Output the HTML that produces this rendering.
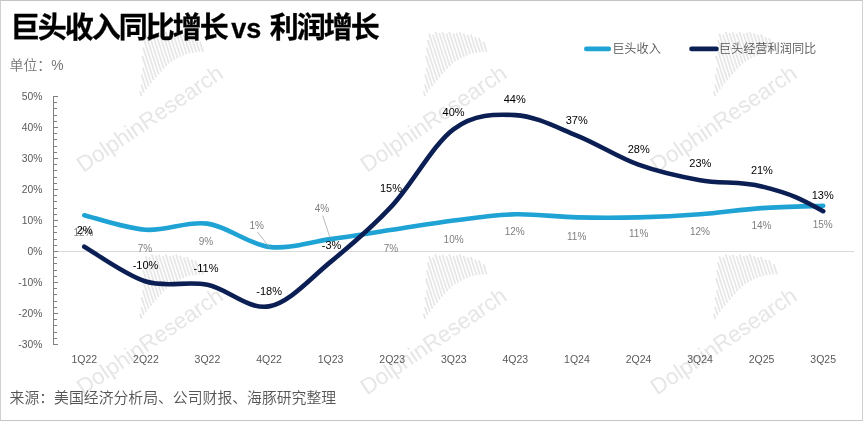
<!DOCTYPE html>
<html lang="zh-CN"><head><meta charset="utf-8"><title>巨头收入同比增长 vs 利润增长</title>
<style>
html,body{margin:0;padding:0;background:#fff;}
body{width:863px;height:421px;position:relative;overflow:hidden;font-family:"Liberation Sans","Noto Sans CJK SC",sans-serif;}
#frame{position:absolute;left:0;top:0;width:861px;height:419px;border:1px solid #d0d0d0;border-top-color:#c4c4c4;border-bottom-color:#c4c4c4;}
#title{position:absolute;left:10.8px;top:7.6px;-webkit-text-stroke:0.3px #000;font-size:29px;font-weight:700;color:#000;white-space:nowrap;line-height:40px;letter-spacing:-2px;}
#title .vs{font-size:27px;letter-spacing:0;margin-left:-3px;margin-right:1px;}
#unit{position:absolute;left:9.5px;top:54.5px;font-size:13.9px;font-weight:350;color:#767676;white-space:nowrap;line-height:20px;}
#src{position:absolute;left:9.6px;top:386.4px;font-size:14.85px;font-weight:350;color:#555;white-space:nowrap;line-height:24px;}
svg text{font-family:"Liberation Sans","Noto Sans CJK SC",sans-serif;}
.ya{font-size:10.3px;fill:#595959;}
.xa{font-size:10.5px;fill:#595959;}
.rl{font-size:10px;fill:#7f7f7f;}
.pl{font-size:11px;fill:#000;}
.lg{font-size:12.2px;fill:#555;font-weight:350;}
</style></head><body>
<div id="frame"></div>
<svg width="863" height="421" viewBox="0 0 863 421" style="position:absolute;left:0;top:0">
<defs>
<g id="wm"><path d="M8.3,64.2 L10.0,69.2 M9.6,57.5 L12.2,65.5 M9.8,47.5 L14.6,62.2 M11.1,40.8 L17.1,59.2 M10.6,28.9 L19.5,56.2 M11.4,20.6 L22.0,53.2 M12.4,12.9 L24.5,50.2 M13.8,6.7 L27.0,47.2 M17.5,7.7 L29.5,44.5 M20.0,4.8 L32.1,41.8 M23.9,6.0 L34.7,39.2 M27.1,5.2 L37.3,36.5 M31.1,6.8 L40.1,34.5 M33.9,4.9 L43.0,33.0 M37.9,6.5 L45.9,31.2 M41.1,5.9 L48.9,29.8 M44.2,4.7 L51.9,28.5 M48.2,6.4 L55.0,27.2 M52.1,7.9 L58.1,26.2 M55.4,7.4 L61.4,25.8 M59.7,10.1 L64.7,25.2 M63.5,11.0 L67.9,24.8 M68.2,14.9 L71.4,24.8" stroke="#e7e7e7" stroke-width="1.8" fill="none"/><text transform="translate(-48.4,146) rotate(-34.2)" font-family="Liberation Sans, sans-serif" font-size="22.3" fill="#e6e6e6">DolphinResearch</text></g>
</defs>
<use href="#wm" x="131.7" y="27.0"/>
<use href="#wm" x="415.3" y="27.0"/>
<use href="#wm" x="705.5" y="27.0"/>
<use href="#wm" x="131.7" y="249.5"/>
<use href="#wm" x="415.3" y="249.5"/>
<use href="#wm" x="705.5" y="249.5"/>
<line x1="53.5" y1="251.5" x2="854.0" y2="251.5" stroke="#d9d9d9" stroke-width="1"/>
<path d="M53.5,96.0 V345.0 M53.5,96.50 h4.5 M53.5,102.70 h3.5 M53.5,108.90 h3.5 M53.5,115.10 h3.5 M53.5,121.30 h3.5 M53.5,127.50 h4.5 M53.5,133.70 h3.5 M53.5,139.90 h3.5 M53.5,146.10 h3.5 M53.5,152.30 h3.5 M53.5,158.50 h4.5 M53.5,164.70 h3.5 M53.5,170.90 h3.5 M53.5,177.10 h3.5 M53.5,183.30 h3.5 M53.5,189.50 h4.5 M53.5,195.70 h3.5 M53.5,201.90 h3.5 M53.5,208.10 h3.5 M53.5,214.30 h3.5 M53.5,220.50 h4.5 M53.5,226.70 h3.5 M53.5,232.90 h3.5 M53.5,239.10 h3.5 M53.5,245.30 h3.5 M53.5,251.50 h4.5 M53.5,257.70 h3.5 M53.5,263.90 h3.5 M53.5,270.10 h3.5 M53.5,276.30 h3.5 M53.5,282.50 h4.5 M53.5,288.70 h3.5 M53.5,294.90 h3.5 M53.5,301.10 h3.5 M53.5,307.30 h3.5 M53.5,313.50 h4.5 M53.5,319.70 h3.5 M53.5,325.90 h3.5 M53.5,332.10 h3.5 M53.5,338.30 h3.5 M53.5,344.50 h4.5" stroke="#7f7f7f" stroke-width="1" fill="none" shape-rendering="crispEdges"/>
<text x="42.3" y="100.3" text-anchor="end" class="ya">50%</text>
<text x="42.3" y="131.3" text-anchor="end" class="ya">40%</text>
<text x="42.3" y="162.3" text-anchor="end" class="ya">30%</text>
<text x="42.3" y="193.3" text-anchor="end" class="ya">20%</text>
<text x="42.3" y="224.3" text-anchor="end" class="ya">10%</text>
<text x="42.3" y="255.3" text-anchor="end" class="ya">0%</text>
<text x="42.3" y="286.3" text-anchor="end" class="ya">-10%</text>
<text x="42.3" y="317.3" text-anchor="end" class="ya">-20%</text>
<text x="42.3" y="348.3" text-anchor="end" class="ya">-30%</text>
<text x="84.3" y="362.6" text-anchor="middle" class="xa">1Q22</text>
<text x="145.9" y="362.6" text-anchor="middle" class="xa">2Q22</text>
<text x="207.4" y="362.6" text-anchor="middle" class="xa">3Q22</text>
<text x="269.0" y="362.6" text-anchor="middle" class="xa">4Q22</text>
<text x="330.6" y="362.6" text-anchor="middle" class="xa">1Q23</text>
<text x="392.2" y="362.6" text-anchor="middle" class="xa">2Q23</text>
<text x="453.8" y="362.6" text-anchor="middle" class="xa">3Q23</text>
<text x="515.3" y="362.6" text-anchor="middle" class="xa">4Q23</text>
<text x="576.9" y="362.6" text-anchor="middle" class="xa">1Q24</text>
<text x="638.5" y="362.6" text-anchor="middle" class="xa">2Q24</text>
<text x="700.1" y="362.6" text-anchor="middle" class="xa">3Q24</text>
<text x="761.6" y="362.6" text-anchor="middle" class="xa">2Q25</text>
<text x="823.2" y="362.6" text-anchor="middle" class="xa">3Q25</text>
<path d="M84.29,215.23 C94.55,217.66 125.34,228.41 145.87,229.80 C166.39,231.19 186.92,220.76 207.44,223.60 C227.97,226.44 248.49,244.27 269.02,246.85 C289.54,249.43 310.07,241.94 330.60,239.10 C351.12,236.26 371.65,232.90 392.17,229.80 C412.70,226.70 433.22,223.08 453.75,220.50 C474.28,217.92 494.80,214.82 515.33,214.30 C535.85,213.78 556.38,216.88 576.90,217.40 C597.43,217.92 617.96,217.92 638.48,217.40 C659.01,216.88 679.53,215.85 700.06,214.30 C720.58,212.75 741.11,209.52 761.63,208.10 C782.16,206.68 812.95,206.16 823.21,205.78" fill="none" stroke="#1fa3d4" stroke-width="4.6" stroke-linecap="round" stroke-linejoin="round"/>
<path d="M84.29,246.69 C94.55,252.51 125.34,275.21 145.87,281.57 C166.39,287.93 186.92,280.69 207.44,284.82 C227.97,288.96 248.49,310.19 269.02,306.37 C289.54,302.55 310.07,278.68 330.60,261.88 C351.12,245.09 371.65,227.76 392.17,205.62 C412.70,183.48 433.22,144.14 453.75,129.05 C474.28,113.96 494.80,114.02 515.33,115.10 C535.85,116.18 556.38,127.29 576.90,135.56 C597.43,143.83 617.96,157.26 638.48,164.70 C659.01,172.14 679.53,176.58 700.06,180.20 C720.58,183.82 741.11,181.23 761.63,186.40 C792.42,194.15 801.04,198.92 823.21,211.20" fill="none" stroke="#0b1f54" stroke-width="4.6" stroke-linecap="round" stroke-linejoin="round"/>
<path d="M257.4,232 L269.7,247.5 M322.7,215.5 L330,237.7" stroke="#a8a8a8" stroke-width="0.8" fill="none"/>
<text x="83.5" y="235.9" text-anchor="middle" class="rl">12%</text>
<text x="145.0" y="251.7" text-anchor="middle" class="rl">7%</text>
<text x="206.0" y="244.9" text-anchor="middle" class="rl">9%</text>
<text x="256.7" y="229.1" text-anchor="middle" class="rl">1%</text>
<text x="322.0" y="211.7" text-anchor="middle" class="rl">4%</text>
<text x="391.0" y="252.1" text-anchor="middle" class="rl">7%</text>
<text x="453.6" y="242.5" text-anchor="middle" class="rl">10%</text>
<text x="514.7" y="235.2" text-anchor="middle" class="rl">12%</text>
<text x="576.7" y="239.5" text-anchor="middle" class="rl">11%</text>
<text x="638.7" y="237.2" text-anchor="middle" class="rl">11%</text>
<text x="700.0" y="235.4" text-anchor="middle" class="rl">12%</text>
<text x="761.5" y="228.7" text-anchor="middle" class="rl">14%</text>
<text x="822.7" y="227.7" text-anchor="middle" class="rl">15%</text>
<text x="84.6" y="234.2" text-anchor="middle" class="pl">2%</text>
<text x="145.5" y="268.9" text-anchor="middle" class="pl">-10%</text>
<text x="206.0" y="271.9" text-anchor="middle" class="pl">-11%</text>
<text x="269.2" y="294.7" text-anchor="middle" class="pl">-18%</text>
<text x="331.6" y="249.4" text-anchor="middle" class="pl">-3%</text>
<text x="391.0" y="191.9" text-anchor="middle" class="pl">15%</text>
<text x="453.6" y="115.9" text-anchor="middle" class="pl">40%</text>
<text x="514.7" y="103.1" text-anchor="middle" class="pl">44%</text>
<text x="576.7" y="123.7" text-anchor="middle" class="pl">37%</text>
<text x="638.7" y="152.6" text-anchor="middle" class="pl">28%</text>
<text x="700.3" y="166.6" text-anchor="middle" class="pl">23%</text>
<text x="761.9" y="174.2" text-anchor="middle" class="pl">21%</text>
<text x="822.7" y="198.9" text-anchor="middle" class="pl">13%</text>
<line x1="586.3" y1="48.9" x2="608.8" y2="48.9" stroke="#1fa3d4" stroke-width="4.6" stroke-linecap="round"/>
<line x1="691.5" y1="48.9" x2="716.5" y2="48.9" stroke="#0b1f54" stroke-width="4.6" stroke-linecap="round"/>
<text x="612.2" y="53.3" class="lg">巨头收入</text>
<text x="718.8" y="53.3" class="lg">巨头经营利润同比</text>
</svg>
<div id="title">巨头收入同比增长<span class="vs"> vs </span>利润增长</div>
<div id="unit">单位：%</div>
<div id="src">来源：美国经济分析局、公司财报、海豚研究整理</div>
</body></html>
